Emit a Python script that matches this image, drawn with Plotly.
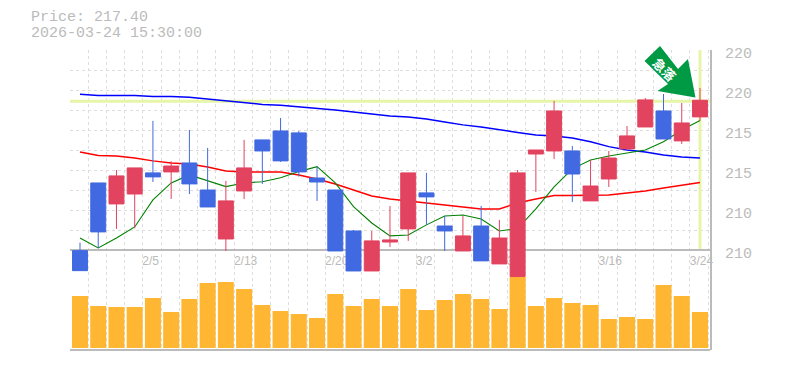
import plotly.graph_objects as go

idx = list(range(35))
tick_idx = [4, 9, 14, 19, 24, 29, 34]
tick_labels = ["2/5", "2/13", "2/20", "3/2", "3/9", "3/16", "3/24"]
price_ticks = [220.5, 218, 215.5, 213, 210.5, 208]
price_labels = ["220", "220", "215", "215", "210", "210"]
last_price = 217.40

opens = [208.00,212.23,210.92,211.54,212.86,212.92,213.48,211.79,208.73,211.73,214.92,215.48,215.36,212.54,211.79,209.23,206.73,208.54,209.36,211.61,209.54,207.98,209.54,207.17,206.38,214.04,214.23,214.23,211.11,212.48,214.36,215.73,216.73,214.86,216.36]
highs = [208.50,212.23,213.04,213.17,216.11,213.59,215.54,214.42,212.36,214.92,214.92,216.29,215.48,213.25,211.79,209.29,209.23,210.79,212.86,212.86,210.17,210.17,210.79,209.92,213.04,214.29,217.36,214.54,213.67,214.23,215.79,217.54,217.79,217.23,218.17]
lows = [206.75,208.15,209.36,209.40,212.29,211.23,211.54,210.73,207.98,211.23,212.17,213.54,212.63,211.11,207.98,206.73,206.73,208.23,208.61,209.61,207.98,207.98,207.36,207.17,206.38,211.67,213.73,211.04,211.11,211.98,214.29,215.73,214.98,214.67,216.11]
closes = [206.75,209.17,212.67,213.17,212.61,213.29,212.17,210.73,211.11,213.17,214.23,213.61,212.92,212.29,207.98,206.73,208.61,208.67,212.86,211.36,209.23,208.92,207.36,208.79,212.86,214.29,216.73,212.79,212.04,213.79,215.17,217.42,214.98,215.98,217.40]

ma_short = [208.79,208.17,208.79,209.48,211.17,212.23,212.73,212.38,212.00,212.23,212.31,212.56,212.94,213.25,212.23,210.75,209.73,208.92,208.98,209.61,210.17,210.23,209.98,209.23,209.38,210.61,211.98,213.11,213.67,213.92,214.11,214.29,214.81,215.54,216.13]
ma_mid = [214.17,213.94,213.92,213.79,213.61,213.48,213.42,213.23,212.98,212.92,212.92,212.92,212.73,212.48,212.17,211.79,211.42,211.23,211.11,210.98,210.86,210.73,210.61,210.61,210.98,211.23,211.44,211.44,211.44,211.48,211.61,211.73,211.92,212.11,212.26]
ma_long = [217.78,217.70,217.70,217.70,217.64,217.64,217.59,217.48,217.37,217.23,217.14,217.08,216.98,216.92,216.79,216.67,216.54,216.42,216.36,216.23,216.04,215.86,215.73,215.54,215.39,215.23,215.17,215.04,214.81,214.50,214.29,214.17,213.98,213.86,213.79]

volumes = [52,42,41,41,50,36,49,65,66,59,43,37,34,30,54,42,49,42,59,38,48,54,49,39,71,42,50,45,43,29,31,29,63,52,36]

GRAY = "#bbbbbb"
GRID = "#dddddd"
RED = "#e2435f"
BLUE = "#4169e1"
ORANGE = "#ffb733"
LIME = "#e6f5a8"
MONO = "Liberation Mono, DejaVu Sans Mono, monospace"

W, H = 785, 370
L, R, T, B = 70, 710, 50, 350
P_LO, P_HI = 201.79, 220.54
V_LO, V_HI = -2, 298
X_LO, X_HI = -0.548, 34.55
def px(x): return (x - L) / (R - L)
def py(y): return (B - y) / (B - T)
def p2v(p): return V_LO + (p - P_LO) / (P_HI - P_LO) * (V_HI - V_LO)

fig = go.Figure()
fig.add_bar(x=idx, y=volumes, yaxis="y", marker=dict(color=ORANGE, line_width=0), showlegend=False, hoverinfo="skip")
for vals, col, lw in ((ma_long, "#0000ff", 1.5), (ma_mid, "#ff0000", 1.5), (ma_short, "#008000", 1.1)):
    fig.add_scatter(x=idx, y=vals, yaxis="y2", mode="lines", line=dict(color=col, width=lw),
                    showlegend=False, hoverinfo="skip")
fig.add_candlestick(
    x=idx, open=opens, high=highs, low=lows, close=closes, yaxis="y3",
    increasing=dict(line=dict(color=RED, width=1), fillcolor=RED),
    decreasing=dict(line=dict(color=BLUE, width=1), fillcolor=BLUE),
    whiskerwidth=0, showlegend=False,
)

arrow = [(660, 46), (644.5, 61), (668, 84), (657.5, 91), (695.5, 97.5), (688, 59), (678, 69)]
arrow_path = "M" + " L".join(f"{px(x):.4f},{py(y):.4f}" for x, y in arrow) + " Z"

fig.update_layout(
    width=W, height=H, autosize=False,
    margin=dict(l=L, r=W - R, t=T, b=H - B, pad=0),
    paper_bgcolor="white", plot_bgcolor="white",
    boxgap=0.18, boxgroupgap=0, bargap=0.12, showlegend=False,
    xaxis=dict(
        range=[X_LO, X_HI], anchor="free", position=1/3,
        tickmode="array",
        tickvals=[i + (-0.13 if len(t) == 3 else 0.08) for i, t in zip(tick_idx, tick_labels)],
        ticktext=tick_labels,
        tickfont=dict(family="Liberation Sans, Arial, sans-serif", size=12, color=GRAY), ticks="", ticklabelstandoff=0,
        showgrid=False, showline=True, linecolor=GRAY, linewidth=2, zeroline=False,
        layer="below traces", rangeslider=dict(visible=False),
        minor=dict(tickmode="array", tickvals=[X_LO + i for i in range(36)], showgrid=True,
                   gridcolor=GRID, griddash="3px,3px", gridwidth=1, ticks=""),
    ),
    yaxis=dict(range=[V_LO, V_HI], visible=False, fixedrange=True),
    yaxis2=dict(
        range=[P_LO, P_HI], overlaying="y", side="right", anchor="x",
        tickmode="array", tickvals=[v - 0.14 for v in price_ticks], ticktext=price_labels,
        tickfont=dict(family=MONO, size=15, color=GRAY), ticks="", ticklabelstandoff=10,
        showgrid=False, showline=True, linecolor=GRAY, linewidth=2, zeroline=False,
        layer="below traces",
        minor=dict(tickmode="array", tickvals=[208 + 1.25 * k for k in range(11)], showgrid=True,
                   gridcolor=GRID, griddash="3px,3px", gridwidth=1, ticks=""),
    ),
    yaxis3=dict(range=[P_LO, P_HI], overlaying="y", side="right", anchor="x", visible=False),
    shapes=[
        dict(type="line", xref="x", yref="y", x0=X_LO, x1=X_HI, y0=p2v(last_price - 0.07), y1=p2v(last_price - 0.07),
             line=dict(color=LIME, width=3), layer="between"),
        dict(type="line", xref="x", yref="y", x0=34, x1=34, y0=p2v(208), y1=V_HI,
             line=dict(color=LIME, width=3), layer="between"),
        dict(type="line", xref="paper", yref="paper", x0=0, x1=1, y0=0, y1=0,
             line=dict(color=GRAY, width=2), layer="above"),
        dict(type="path", xref="paper", yref="paper", path=arrow_path,
             fillcolor="#009944", line=dict(width=0), layer="above"),
    ],
    annotations=[
        dict(text="Price: 217.40", xref="paper", yref="paper", x=px(29), y=py(18), xanchor="left",
             yanchor="middle", showarrow=False, font=dict(family=MONO, size=15, color=GRAY)),
        dict(text="2026-03-24 15:30:00", xref="paper", yref="paper", x=px(29), y=py(33), xanchor="left",
             yanchor="middle", showarrow=False, font=dict(family=MONO, size=15, color=GRAY)),
        dict(text="<b>急落</b>", xref="paper", yref="paper", x=px(665), y=py(69), xanchor="center",
             yanchor="middle", showarrow=False, textangle=45,
             font=dict(family="Noto Sans CJK JP", size=13, color="white")),
    ],
)

fig.write_html("out.html", config={"displayModeBar": False},
               post_script="document.body.style.margin='0';document.documentElement.style.overflow='hidden';")
